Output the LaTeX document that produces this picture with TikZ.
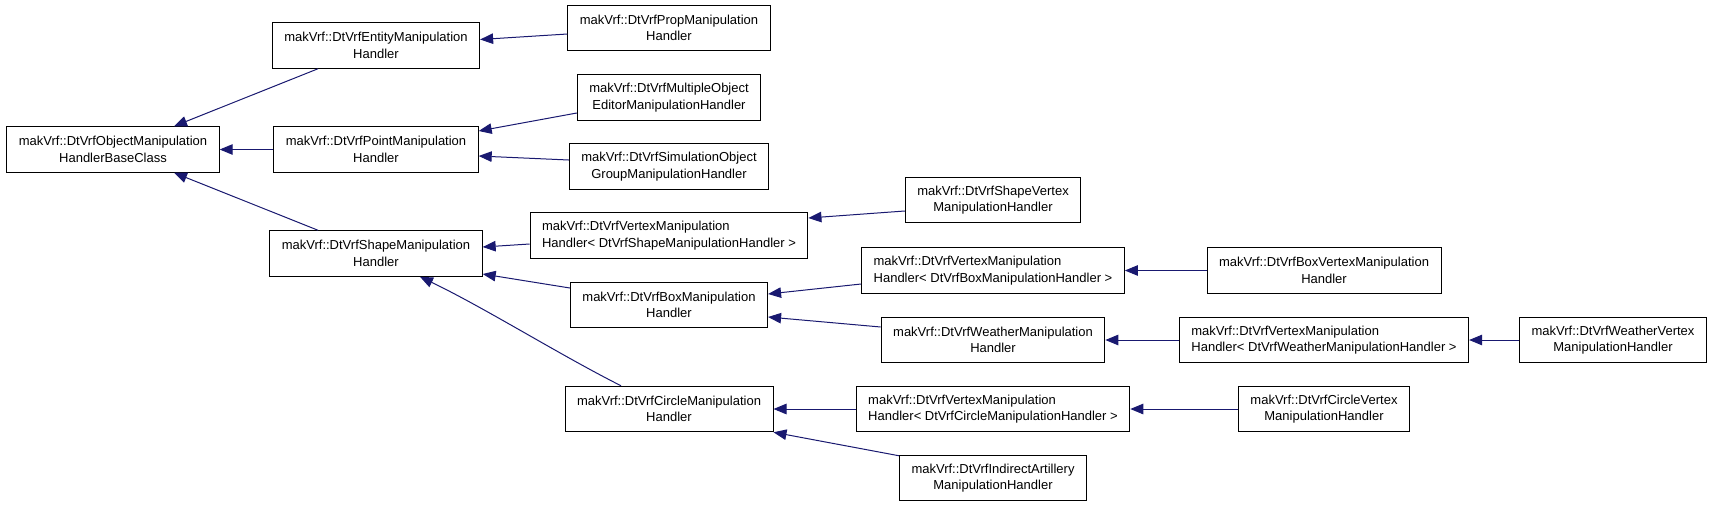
\documentclass[tikz,border=0pt]{standalone}
\usepackage{fontspec}
\setmainfont{Liberation Sans}
\usepackage{xcolor}
\usepackage{tikz}
\usetikzlibrary{arrows.meta}
\definecolor{dxNavy}{HTML}{191970}
\tikzset{
  class box/.style={draw=black,line width=1pt,fill=white,align=center,
    minimum height=45.5pt,inner xsep=12pt,inner ysep=0pt,
    font=\fontsize{13}{16.5}\selectfont},
  template box/.style={class box,align=left},
  inherit arrow/.style={-{Triangle[length=13pt,width=10.5pt]},line width=1pt,draw=dxNavy}
}
\begin{document}
\begin{tikzpicture}[x=1pt,y=-1pt]
\useasboundingbox (0,0) rectangle (1715,507);
\node[class box] (objbase) at (113,149.5) {makVrf::DtVrfObjectManipulation\\HandlerBaseClass};
\node[class box] (entity) at (376,45.5) {makVrf::DtVrfEntityManipulation\\Handler};
\node[class box] (point) at (376,149.5) {makVrf::DtVrfPointManipulation\\Handler};
\node[class box] (shapemh) at (376,253.5) {makVrf::DtVrfShapeManipulation\\Handler};
\node[class box] (prop) at (669,28) {makVrf::DtVrfPropManipulation\\Handler};
\node[class box] (multi) at (669,97.5) {makVrf::DtVrfMultipleObject\\EditorManipulationHandler};
\node[class box] (simgroup) at (669,166.5) {makVrf::DtVrfSimulationObject\\GroupManipulationHandler};
\node[template box] (vxshape) at (669,235.5) {makVrf::DtVrfVertexManipulation\\Handler< DtVrfShapeManipulationHandler >};
\node[class box] (boxmh) at (669,305) {makVrf::DtVrfBoxManipulation\\Handler};
\node[class box] (circlemh) at (669,409) {makVrf::DtVrfCircleManipulation\\Handler};
\node[class box] (shapevx) at (993,200) {makVrf::DtVrfShapeVertex\\ManipulationHandler};
\node[template box] (vxbox) at (993,270.5) {makVrf::DtVrfVertexManipulation\\Handler< DtVrfBoxManipulationHandler >};
\node[class box] (weather) at (993,340) {makVrf::DtVrfWeatherManipulation\\Handler};
\node[template box] (vxcircle) at (993,409) {makVrf::DtVrfVertexManipulation\\Handler< DtVrfCircleManipulationHandler >};
\node[class box] (artillery) at (993,478) {makVrf::DtVrfIndirectArtillery\\ManipulationHandler};
\node[class box] (boxvx) at (1324,270.5) {makVrf::DtVrfBoxVertexManipulation\\Handler};
\node[template box] (vxweather) at (1324,340) {makVrf::DtVrfVertexManipulation\\Handler< DtVrfWeatherManipulationHandler >};
\node[class box] (circlevx) at (1324,409) {makVrf::DtVrfCircleVertex\\ManipulationHandler};
\node[class box] (weathervx) at (1613,340) {makVrf::DtVrfWeatherVertex\\ManipulationHandler};
% inheritance edges, child to parent
\draw[inherit arrow] ([xshift=-58pt]entity.south) -- ([xshift=61pt]objbase.north);
\draw[inherit arrow] (point.west) -- (objbase.east);
\draw[inherit arrow] ([xshift=-58pt]shapemh.north) -- ([xshift=61pt]objbase.south);
\draw[inherit arrow] ([yshift=-6pt]prop.west) -- ([yshift=6pt]entity.east);
\draw[inherit arrow] ([yshift=-15.5pt]multi.west) -- ([yshift=18.5pt]point.east);
\draw[inherit arrow] ([yshift=6.5pt]simgroup.west) -- ([yshift=-6.5pt]point.east);
\draw[inherit arrow] ([yshift=-8.5pt]vxshape.west) -- ([yshift=6.5pt]shapemh.east);
\draw[inherit arrow] ([yshift=17pt]boxmh.west) -- ([yshift=-20.5pt]shapemh.east);
\draw[inherit arrow] ([xshift=-48pt]circlemh.north) .. controls (560,355) and (485,308) .. ([xshift=44pt]shapemh.south);
\draw[inherit arrow] ([yshift=-11pt]shapevx.west) -- ([yshift=17.5pt]vxshape.east);
\draw[inherit arrow] ([yshift=-13.5pt]vxbox.west) -- ([yshift=11pt]boxmh.east);
\draw[inherit arrow] ([yshift=13pt]weather.west) -- ([yshift=-12pt]boxmh.east);
\draw[inherit arrow] (vxcircle.west) -- (circlemh.east);
\draw[inherit arrow] ([yshift=-1pt]artillery.north west) -- (circlemh.south east);
\draw[inherit arrow] (boxvx.west) -- (vxbox.east);
\draw[inherit arrow] (vxweather.west) -- (weather.east);
\draw[inherit arrow] (weathervx.west) -- (vxweather.east);
\draw[inherit arrow] (circlevx.west) -- (vxcircle.east);
\end{tikzpicture}
\end{document}
